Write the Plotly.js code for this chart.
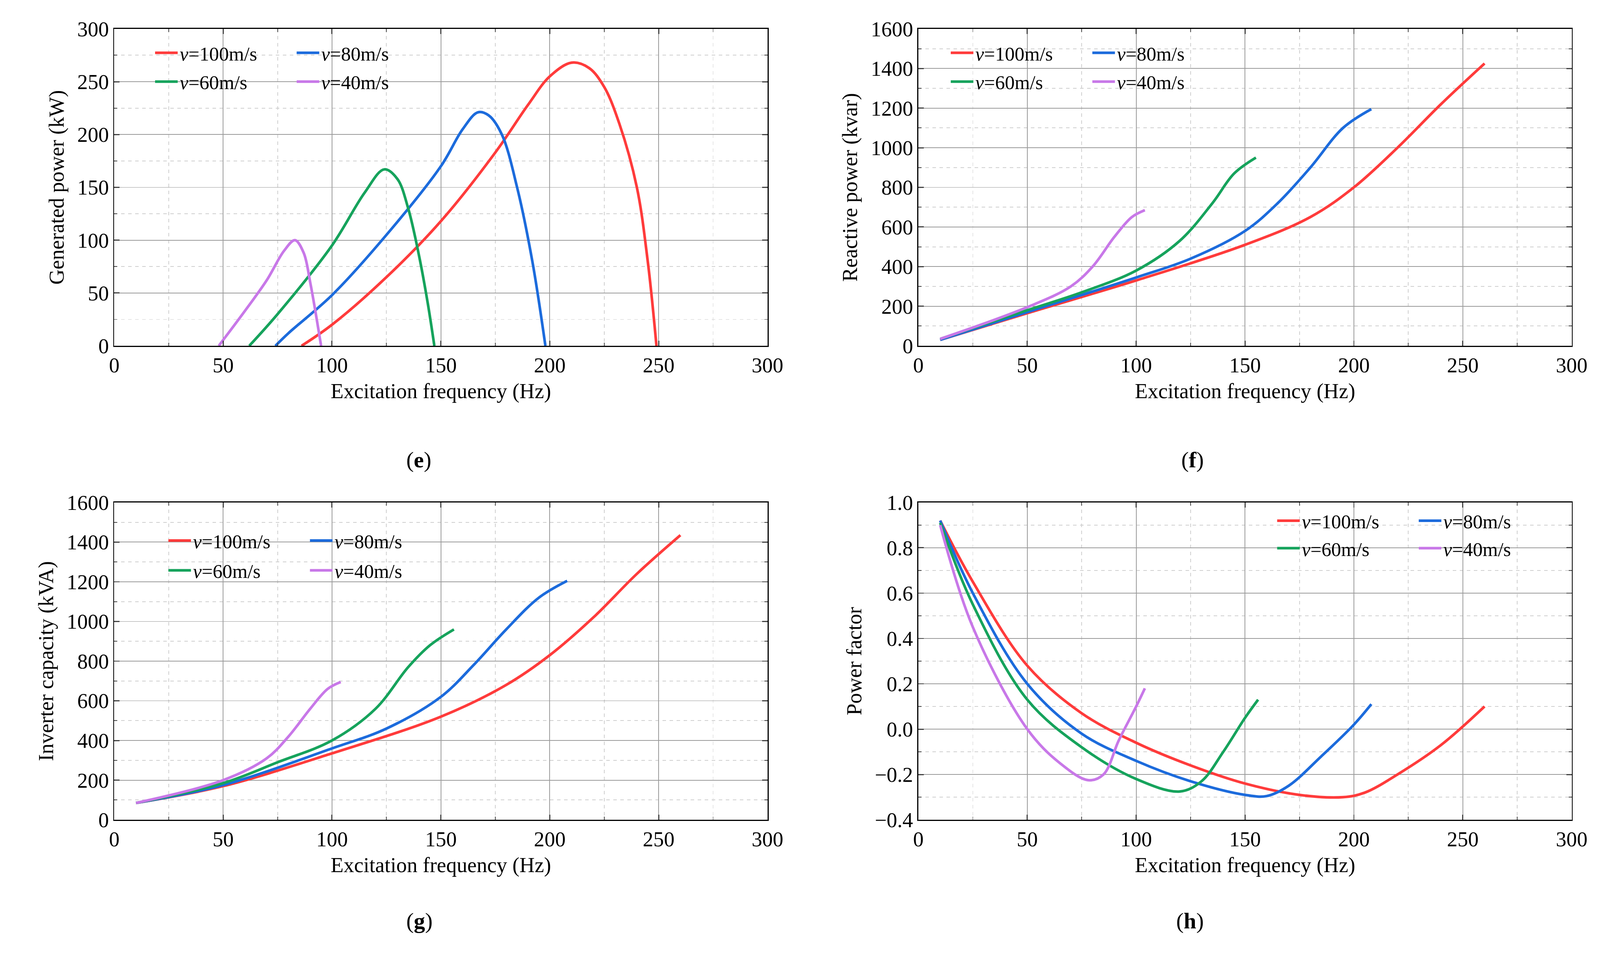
<!DOCTYPE html><html><head><meta charset="utf-8">
<script src="https://cdn.plot.ly/plotly-3.0.1.min.js"></script>
<style>html,body{margin:0;overflow:hidden}#c{width:100vw;height:100vh}</style></head><body><div id="c"></div><script>
const names=['<i>v</i>=100m/s','<i>v</i>=80m/s','<i>v</i>=60m/s','<i>v</i>=40m/s'];
const colors=['#FF3B3B','#1C6BDC','#16A35C','#C878E8'];
// (e) generated power
const eX=[[86,100,125,150,175,190,200,210,218,225,232,240,245,249],[74,80,100,125,150,160,167,172,178,185,192,198],[62,75,100,115,124,130,135,140,144,147],[48,60,70,78,83,87,90,93,95]];
const eY=[[0,20,65,118,183,228,255,268,263,245,210,150,80,0],[0,12,48,105,170,205,221,218,200,150,80,0],[0,30,95,145,167,158,130,85,40,0],[0,33,62,90,100,88,60,25,0]];
// (f) reactive power
const fX=[[10,50,100,150,180,200,220,240,260],[10,50,100,125,150,165,180,195,208],[10,50,75,100,120,135,145,155],[10,50,70,80,90,98,104]];
const fY=[[30,165,330,510,650,800,1000,1220,1425],[30,170,345,440,580,720,900,1100,1195],[35,180,270,380,530,720,870,950],[35,195,300,400,550,650,685]];
// (g) inverter capacity
const gX=[[10,50,100,150,180,200,220,240,260],[10,50,100,125,150,165,180,195,208],[10,50,75,100,120,135,145,156],[10,50,70,80,90,98,104]];
const gY=[[85,170,335,520,680,830,1020,1240,1435],[85,175,360,460,620,780,960,1120,1205],[85,185,290,400,560,770,880,960],[85,200,310,420,560,660,695]];
// (h) power factor
const hX=[[10,25,50,75,100,125,150,175,195,205,220,240,260],[10,25,50,75,100,125,150,160,170,185,200,208],[10,25,50,75,100,120,130,140,150,156],[10,25,50,65,78,85,92,100,104]];
const hY=[[0.92,0.65,0.28,0.07,-0.06,-0.16,-0.24,-0.29,-0.30,-0.28,-0.2,-0.07,0.1],[0.92,0.6,0.2,-0.02,-0.14,-0.23,-0.29,-0.295,-0.25,-0.12,0.02,0.11],[0.91,0.55,0.13,-0.08,-0.22,-0.275,-0.23,-0.1,0.05,0.13],[0.9,0.45,0.0,-0.15,-0.225,-0.2,-0.05,0.1,0.18]];
const panels=[
 {X:eX,Y:eY,xa:'x',ya:'y',yt:'Generated power (kW)',yr:[0,300],dt:50,lg:[0.0957,0.945,0.915],lab:'(<b>e</b>)',lx:0.2535,ly:0.522},
 {X:fX,Y:fY,xa:'x2',ya:'y2',yt:'Reactive power (kvar)',yr:[0,1600],dt:200,lg:[0.593,0.945,0.915],lab:'(<b>f</b>)',lx:0.753,ly:0.522},
 {X:gX,Y:gY,xa:'x3',ya:'y3',yt:'Inverter capacity (kVA)',yr:[0,1600],dt:200,lg:[0.104,0.438,0.407],lab:'(<b>g</b>)',lx:0.2535,ly:0.029},
 {X:hX,Y:hY,xa:'x4',ya:'y4',yt:'Power factor',yr:[-0.4,1.0],dt:0.2,lg:[0.797,0.4586,0.43],lab:'(<b>h</b>)',lx:0.753,ly:0.029}];
const W=window.innerWidth||4244, H=window.innerHeight||2462, s=W/4244;
const F='Liberation Serif, Times New Roman, serif';
const traces=[],layout={width:W,height:H,paper_bgcolor:'#fff',plot_bgcolor:'#fff',showlegend:true,margin:{l:0,r:0,t:0,b:0},font:{family:F,size:56*s,color:'#000'},annotations:[]};
const doms=[[[0.0714,0.4797],[0.6405,0.970]],[[0.574,0.9823],[0.6405,0.970]],[[0.0714,0.4797],[0.1478,0.4777]],[[0.574,0.9823],[0.1478,0.4777]]];
let li=1;
panels.forEach((p,k)=>{
 const l1=li===1?'legend':'legend'+li, l2='legend'+(li+1);
 for(let i=0;i<4;i++) traces.push({x:p.X[i],y:p.Y[i],xaxis:p.xa,yaxis:p.ya,mode:'lines',name:names[i],line:{color:colors[i],width:7*s,shape:'spline'},legend:i<2?l1:l2});
 [l1,l2].forEach((L,j)=>{layout[L]={x:p.lg[0],y:p.lg[1+j],xanchor:'left',yanchor:'middle',orientation:'h',bgcolor:'rgba(0,0,0,0)',font:{size:52*s,family:F},entrywidth:300*s,itemwidth:60*s,tracegroupgap:0}});
 li+=2;
 const ax={showline:true,mirror:'ticks',linecolor:'#000',linewidth:3*s,ticks:'inside',ticklen:14*s,tickwidth:3*s,showgrid:true,gridcolor:'#9a9a9a',gridwidth:2*s,zeroline:false,tickfont:{size:56*s,family:F}};
 const xn=k===0?'xaxis':'xaxis'+(k+1), yn=k===0?'yaxis':'yaxis'+(k+1);
 layout[xn]=Object.assign({},ax,{domain:doms[k][0],range:[0,300],dtick:50,tick0:0,anchor:p.ya,
   minor:{dtick:25,showgrid:true,gridcolor:'#cfcfcf',griddash:'dash',gridwidth:2*s,ticks:'inside',ticklen:8*s,tickwidth:2*s},
   title:{text:'Excitation frequency (Hz)',font:{size:56*s,family:F},standoff:18*s}});
 layout[yn]=Object.assign({},ax,{domain:doms[k][1],range:p.yr,dtick:p.dt,tick0:p.yr[0],anchor:p.xa,tickformat:k===3?'.1f':'',
   minor:{dtick:p.dt/2,showgrid:true,gridcolor:'#cfcfcf',griddash:'dash',gridwidth:2*s,ticks:'inside',ticklen:8*s,tickwidth:2*s},
   title:{text:p.yt,font:{size:56*s,family:F},standoff:18*s}});
 layout.annotations.push({text:p.lab,x:p.lx,y:p.ly,xref:'paper',yref:'paper',showarrow:false,font:{size:60*s,family:F}});
});
Plotly.newPlot('c',traces,layout,{staticPlot:true});
</script></body></html>
